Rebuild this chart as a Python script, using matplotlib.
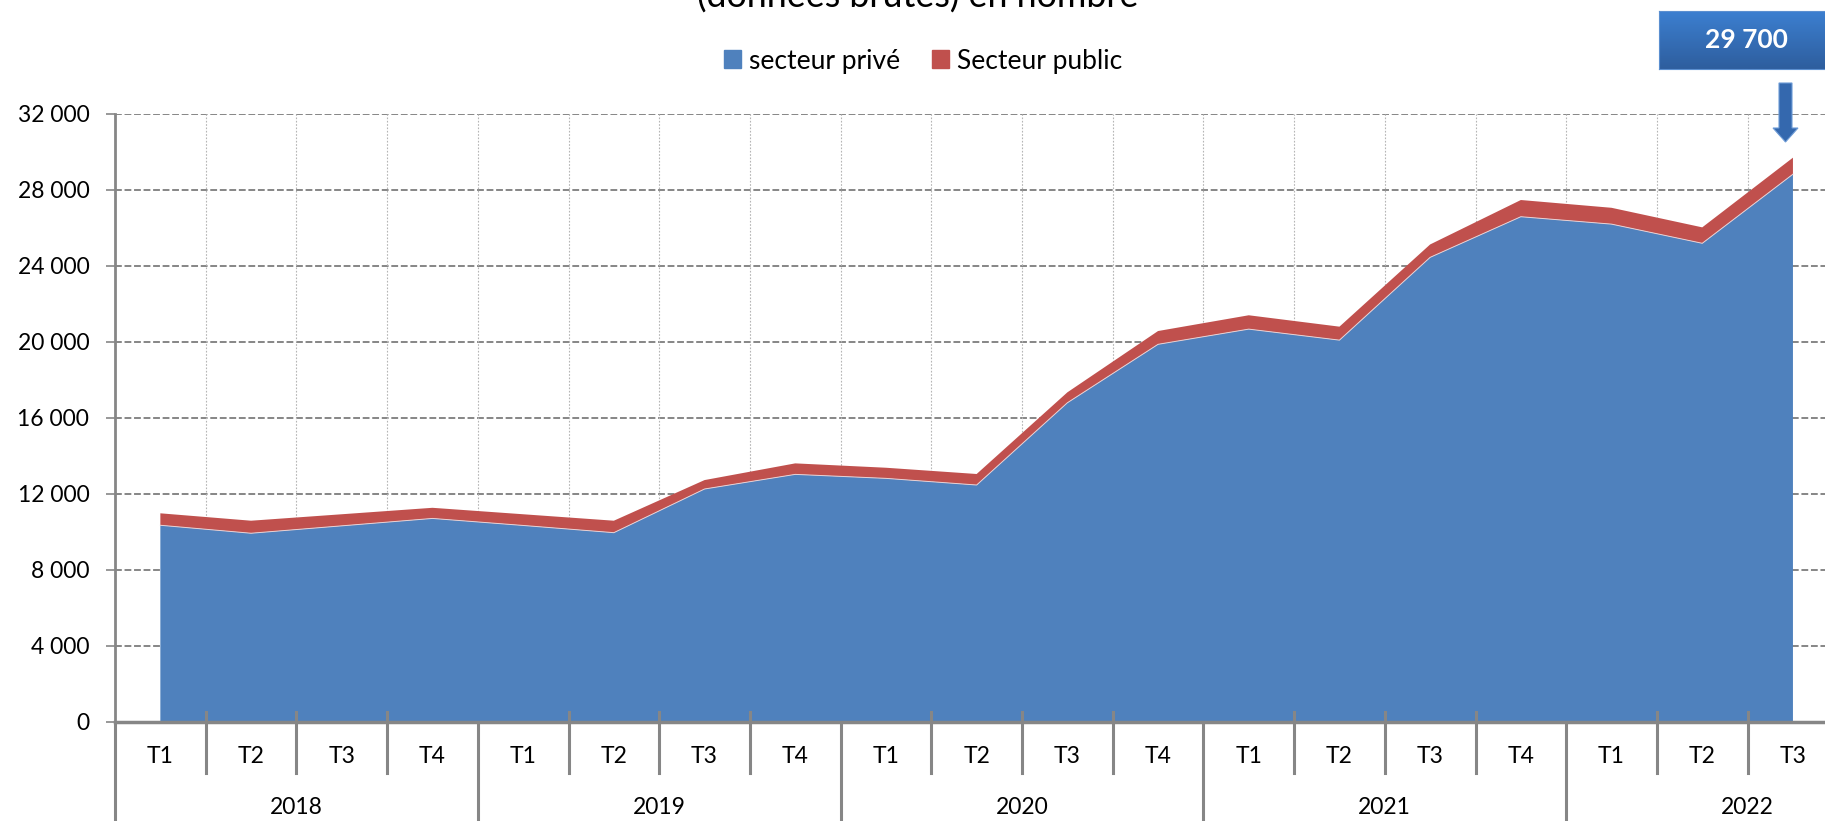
import numpy as np
import matplotlib.pyplot as plt
from matplotlib.patches import Polygon, Patch

plt.rcParams['font.family'] = ['Lato', 'DejaVu Sans']

# valeurs (données brutes, en nombre)
annees = ['2018', '2019', '2020', '2021', '2022']
trimestres = ['T1', 'T2', 'T3', 'T4']
prive = [10340, 9920, 10310, 10700,
         10330, 9950, 12250, 13020,
         12810, 12460, 16790, 19870,
         20670, 20090, 24450, 26590,
         26200, 25190, 28830]
public = [630, 660, 610, 560,
          590, 630, 470, 580,
          560, 580, 550, 700,
          730, 710, 680, 880,
          860, 840, 870]
dernier = '29 700'

bleu = '#4F81BD'
rouge = '#C0504D'
gris = '#868686'

W, H = 1825, 821
fig = plt.figure(figsize=(W / 100, H / 100), dpi=100)
# axes plus large que la figure : le trimestre T4 2022 est coupé à droite
ax = fig.add_axes([115 / W, (H - 721.6) / H, 1814 / W, 607.6 / H])

ncat = len(annees) * len(trimestres)
x = np.arange(len(prive)) + 0.5
ax.stackplot(x, prive, public, colors=[bleu, rouge], zorder=3)
ax.plot(x, prive, color='#e6d2d6', lw=0.7, zorder=4)

ax.set_xlim(0, ncat)
ax.set_ylim(0, 32000)
yt = np.arange(0, 32001, 4000)
ax.set_yticks(yt)
ax.set_yticklabels([f'{v:,}'.replace(',', ' ') for v in yt], fontsize=16.5)
ax.tick_params(axis='y', direction='out', length=6.5, width=1.2, color=gris, pad=12)
ax.set_xticks([])

# grille
for v in yt[1:]:
    ax.axhline(v, color=gris, lw=1.4, ls=(0, (3.5, 1.4)), zorder=1)
for k in range(1, ncat):
    ax.axvline(k, color='#b5b5b5', lw=0.8, ls=(0, (1.5, 1.5)), zorder=1)

for s in ['top', 'right']:
    ax.spines[s].set_visible(False)
ax.spines['left'].set_color(gris)
ax.spines['left'].set_linewidth(2)
ax.spines['bottom'].set_color(gris)
ax.spines['bottom'].set_linewidth(2.5)
ax.spines['bottom'].set_zorder(5)

# axe des catégories à deux niveaux
tr = ax.get_xaxis_transform()
for k in range(ncat + 1):
    if k % 4 == 0:
        ax.plot([k, k], [0, -0.2], transform=tr, color=gris, lw=2.2, clip_on=False)
    else:
        ax.plot([k, k], [0.016, -0.085], transform=tr, color=gris, lw=2.2, clip_on=False, zorder=6)
for i in range(len(prive)):
    ax.text(i + 0.5, -0.057, trimestres[i % 4], transform=tr, ha='center', va='center', fontsize=16.5)
for j, a in enumerate(annees):
    ax.text(j * 4 + 2, -0.142, a, transform=tr, ha='center', va='center', fontsize=16.5)

# titre (coupé en haut comme sur l'original) et légende
fig.text(918 / W, 1 - 7.5 / H, '(données brutes) en nombre', ha='center', va='baseline', fontsize=25.8)
handles = [Patch(color=bleu, label='secteur privé'), Patch(color=rouge, label='Secteur public')]
fig.legend(handles=handles, loc='center', bbox_to_anchor=(923 / W, 1 - 61 / H), ncol=2,
           frameon=False, fontsize=19, handlelength=0.65, handleheight=0.65,
           handletextpad=0.3, columnspacing=1.2)

# étiquette de la dernière valeur
bx = fig.add_axes([1659 / W, 1 - 69 / H, 200 / W, 58 / H])
grad = np.linspace(0, 1, 50).reshape(-1, 1)
bx.imshow(grad, aspect='auto', cmap=plt.matplotlib.colors.LinearSegmentedColormap.from_list(
    'g', ['#3C7FD0', '#2E5E9E']), extent=[0, 1, 0, 1])
bx.set_xlim(0, 1)
bx.set_ylim(0, 1)
bx.set_xticks([])
bx.set_yticks([])
for s in bx.spines.values():
    s.set_color('#5b8fd0')
bx.text(87 / 200, 0.5, dernier, ha='center', va='center', color='white',
        fontsize=19, fontweight='bold', transform=bx.transAxes)

pts = [(1779, 83), (1792, 83), (1792, 128), (1798, 128), (1785.5, 142), (1773, 128), (1779, 128)]
fig.patches.append(Polygon([(px / W, 1 - py / H) for px, py in pts], closed=True,
                           transform=fig.transFigure, facecolor='#3468AE', edgecolor='#6d9bd6', lw=0.8))

fig.savefig('out.png', dpi=100)
